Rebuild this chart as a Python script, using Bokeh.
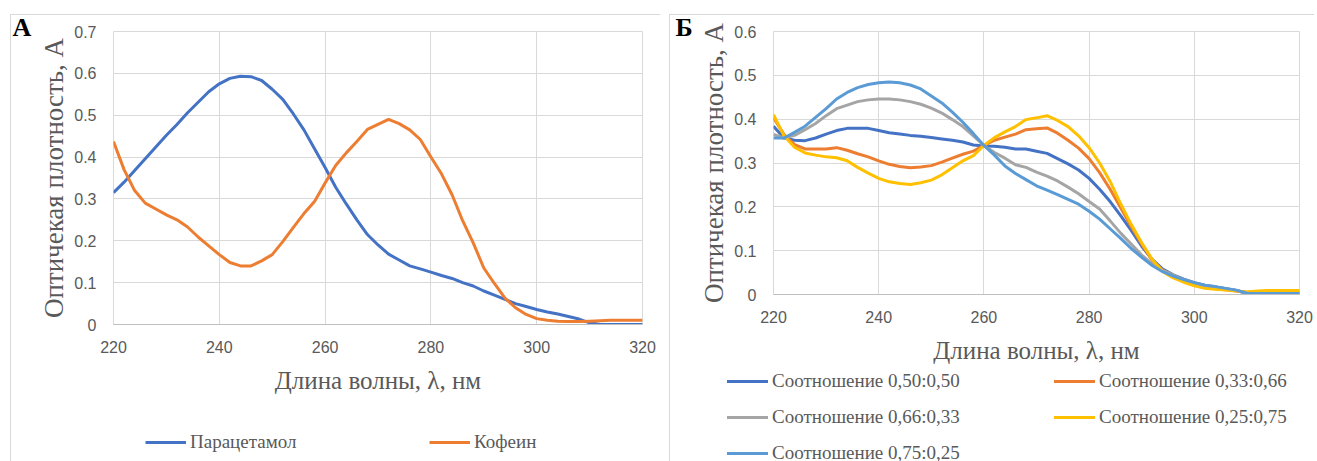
from bokeh.plotting import figure
from bokeh.layouts import row, column
from bokeh.models import Range1d, FixedTicker, Legend, LegendItem, Label, Div
from bokeh.embed import file_html
from bokeh.resources import INLINE

# ---------------- data ----------------
wavelength = [220, 222, 224, 226, 228, 230, 232, 234, 236, 238,
              240, 242, 244, 246, 248, 250, 252, 254, 256, 258,
              260, 262, 264, 266, 268, 270, 272, 274, 276, 278,
              280, 282, 284, 286, 288, 290, 292, 294, 296, 298,
              300, 302, 304, 306, 308, 310, 312, 314, 316, 318, 320]

paracetamol = [0.315, 0.340, 0.368, 0.396, 0.424, 0.452, 0.478, 0.506, 0.531, 0.556,
               0.575, 0.588, 0.593, 0.592, 0.583, 0.562, 0.538, 0.503, 0.465, 0.420,
               0.375, 0.328, 0.288, 0.250, 0.215, 0.190, 0.168, 0.154, 0.140, 0.133,
               0.125, 0.117, 0.110, 0.100, 0.092, 0.080, 0.070, 0.060, 0.050, 0.043,
               0.036, 0.030, 0.025, 0.019, 0.013, 0.004, 0.000, 0.000, 0.000, 0.000, 0.000]

caffeine = [0.437, 0.370, 0.320, 0.290, 0.276, 0.262, 0.250, 0.233, 0.209, 0.188,
            0.167, 0.148, 0.140, 0.140, 0.152, 0.167, 0.198, 0.232, 0.265, 0.294,
            0.338, 0.380, 0.410, 0.437, 0.466, 0.478, 0.490, 0.480, 0.465, 0.442,
            0.400, 0.360, 0.310, 0.248, 0.195, 0.135, 0.098, 0.063, 0.040, 0.024,
            0.014, 0.010, 0.008, 0.007, 0.007, 0.008, 0.009, 0.010, 0.010, 0.010, 0.010]

ratio_050_050 = [0.384, 0.357, 0.352, 0.351, 0.357, 0.366, 0.374, 0.379, 0.379, 0.379,
                 0.374, 0.369, 0.366, 0.363, 0.361, 0.358, 0.355, 0.352, 0.348, 0.341,
                 0.339, 0.338, 0.336, 0.332, 0.332, 0.327, 0.322, 0.310, 0.298, 0.284,
                 0.265, 0.240, 0.212, 0.180, 0.146, 0.110, 0.080, 0.058, 0.045, 0.035,
                 0.027, 0.021, 0.017, 0.013, 0.009, 0.003, 0.002, 0.002, 0.002, 0.002, 0.002]

ratio_033_066 = [0.403, 0.365, 0.342, 0.332, 0.332, 0.332, 0.335, 0.329, 0.321, 0.314,
                 0.305, 0.297, 0.292, 0.289, 0.291, 0.294, 0.302, 0.311, 0.320, 0.327,
                 0.340, 0.352, 0.359, 0.366, 0.376, 0.378, 0.380, 0.368, 0.352, 0.334,
                 0.310, 0.278, 0.240, 0.198, 0.155, 0.115, 0.078, 0.055, 0.042, 0.032,
                 0.022, 0.016, 0.013, 0.011, 0.008, 0.005, 0.006, 0.007, 0.007, 0.007, 0.007]

ratio_066_033 = [0.365, 0.357, 0.363, 0.376, 0.390, 0.408, 0.424, 0.432, 0.440, 0.444,
                 0.446, 0.446, 0.444, 0.440, 0.434, 0.425, 0.414, 0.399, 0.383, 0.362,
                 0.340, 0.324, 0.311, 0.296, 0.290, 0.279, 0.270, 0.259, 0.245, 0.230,
                 0.212, 0.195, 0.168, 0.140, 0.115, 0.090, 0.070, 0.055, 0.044, 0.034,
                 0.026, 0.020, 0.017, 0.013, 0.009, 0.003, 0.002, 0.002, 0.002, 0.002, 0.002]

ratio_025_075 = [0.410, 0.362, 0.336, 0.323, 0.318, 0.314, 0.312, 0.305, 0.290, 0.277,
                 0.265, 0.257, 0.253, 0.251, 0.255, 0.261, 0.273, 0.289, 0.305, 0.317,
                 0.340, 0.358, 0.371, 0.383, 0.399, 0.403, 0.408, 0.397, 0.383, 0.362,
                 0.335, 0.300, 0.258, 0.207, 0.160, 0.118, 0.080, 0.052, 0.038, 0.028,
                 0.020, 0.014, 0.012, 0.010, 0.008, 0.006, 0.008, 0.009, 0.009, 0.009, 0.009]

ratio_075_025 = [0.357, 0.357, 0.370, 0.384, 0.404, 0.424, 0.446, 0.461, 0.472, 0.479,
                 0.483, 0.485, 0.483, 0.478, 0.469, 0.453, 0.437, 0.416, 0.393, 0.367,
                 0.340, 0.318, 0.293, 0.276, 0.262, 0.248, 0.238, 0.228, 0.217, 0.206,
                 0.190, 0.172, 0.150, 0.128, 0.105, 0.085, 0.066, 0.052, 0.042, 0.034,
                 0.027, 0.021, 0.018, 0.014, 0.010, 0.003, 0.002, 0.002, 0.002, 0.002, 0.002]

series_a_names = ["Парацетамол", "Кофеин"]
series_b_names = ["Соотношение 0,50:0,50", "Соотношение 0,33:0,66",
                  "Соотношение 0,66:0,33", "Соотношение 0,25:0,75",
                  "Соотношение 0,75:0,25"]
panel_letters = ["А", "Б"]

x_ticks = [220, 240, 260, 280, 300, 320]
y_ticks_a = [0, 0.1, 0.2, 0.3, 0.4, 0.5, 0.6, 0.7]
y_tick_labels_a = ["0", "0.1", "0.2", "0.3", "0.4", "0.5", "0.6", "0.7"]
y_ticks_b = [0, 0.1, 0.2, 0.3, 0.4, 0.5, 0.6]
y_tick_labels_b = ["0", "0.1", "0.2", "0.3", "0.4", "0.5", "0.6"]

x_title = "Длина волны, λ, нм"
y_title = "Оптичекая плотность, А"

# ---------------- styling ----------------
BLUE = "#4472C4"
ORANGE = "#ED7D31"
GRAY = "#A5A5A5"
YELLOW = "#FFC000"
LBLUE = "#5B9BD5"
TXT = "#595959"
GRID = "#d9d9d9"
SERIF = "Liberation Serif"
SANS = "Liberation Sans"
LINE = "linear-gradient(#d9d9d9, #d9d9d9)"
LW = 3


def top_line_style():
    return {"background-image": LINE, "background-repeat": "no-repeat",
            "background-size": "100% 1px", "background-position": "0px 14px"}


def corner_style(dx):
    return {"background-image": f"{LINE}, {LINE}", "background-repeat": "no-repeat",
            "background-size": "100% 1px, 1px 100%",
            "background-position": f"{dx}px 14px, {dx}px 14px"}


def blank_fig(w, h):
    p = figure(width=w, height=h, x_range=Range1d(0, 1), y_range=Range1d(0, 1),
               output_backend="svg", toolbar_location=None, title=None,
               x_axis_location=None, y_axis_location=None, min_border=0,
               outline_line_color=None, background_fill_color=None,
               border_fill_color=None)
    p.xgrid.visible = False
    p.ygrid.visible = False
    return p


def make_chart(frame_w, frame_h, ymax, yticks, ylabels, borders):
    left, right, top, bottom = borders
    p = figure(frame_width=frame_w, frame_height=frame_h,
               x_range=Range1d(220, 320), y_range=Range1d(0, ymax),
               output_backend="svg", toolbar_location=None, title=None,
               min_border_left=left, min_border_right=right,
               min_border_top=top, min_border_bottom=bottom,
               background_fill_color="white", border_fill_color=None)
    p.styles = top_line_style()
    p.outline_line_color = GRID
    p.xaxis.ticker = FixedTicker(ticks=x_ticks)
    p.yaxis.ticker = FixedTicker(ticks=yticks)
    p.yaxis.major_label_overrides = {t: s for t, s in zip(yticks, ylabels)}
    for ax in (p.xaxis[0], p.yaxis[0]):
        ax.major_tick_line_color = None
        ax.minor_tick_line_color = None
        ax.major_label_text_font = SANS
        ax.major_label_text_font_size = "16px"
        ax.major_label_text_color = TXT
        ax.axis_label_text_font = SERIF
        ax.axis_label_text_font_style = "normal"
        ax.axis_label_text_color = TXT
    p.xaxis.axis_line_color = "#bfbfbf"
    p.yaxis.axis_line_color = None
    p.xaxis.axis_label = x_title
    p.yaxis.axis_label = y_title
    p.xaxis.axis_label_text_font_size = "25px"
    p.yaxis.axis_label_text_font_size = "27px"
    p.xaxis.major_label_standoff = 10
    p.xaxis.axis_label_standoff = 11
    p.yaxis.major_label_standoff = 11
    p.yaxis.axis_label_standoff = 2
    p.xgrid.grid_line_color = GRID
    p.ygrid.grid_line_color = GRID
    p.xgrid.ticker = FixedTicker(ticks=x_ticks)
    p.ygrid.ticker = FixedTicker(ticks=yticks)
    return p


def letter_fig(w, h, letter, x, y, dx):
    p = blank_fig(w, h)
    p.styles = corner_style(dx)
    p.add_layout(Label(x=x, y=y, x_units="screen", y_units="screen", text=letter,
                       text_font=SERIF, text_font_size="26px", text_font_style="bold",
                       text_color="black", text_baseline="alphabetic"))
    return p


# ---------------- panel A ----------------
letter_a = letter_fig(35, 461, panel_letters[0], 12, 434, 10)
chart_a = make_chart(529, 293, 0.7, y_ticks_a, y_tick_labels_a, (78, 18, 31, 81))
chart_a.line(wavelength, paracetamol, line_color=BLUE, line_width=LW)
chart_a.line(wavelength, caffeine, line_color=ORANGE, line_width=LW)

# legend strip (its frame gets aligned with the chart frame above it);
# the series are drawn again here only to supply legend glyphs (outside the strip's view)
leg_a = blank_fig(625, 56)
la = [leg_a.line(wavelength, ys, line_color=c, line_width=LW)
      for ys, c in zip([paracetamol, caffeine], [BLUE, ORANGE])]
for name, r, x0 in zip(series_a_names, la, [32, 316]):
    leg_a.add_layout(Legend(items=[LegendItem(label=name, renderers=[r])],
                            location=(x0, 8), orientation="horizontal",
                            padding=0, margin=0, spacing=0,
                            border_line_color=None, background_fill_alpha=0,
                            glyph_width=41, glyph_height=20, label_height=20,
                            label_standoff=4, label_text_font=SERIF,
                            label_text_font_size="19px", label_text_color=TXT))

# ---------------- panel B ----------------
letter_b = letter_fig(35, 461, panel_letters[1], 15, 434, 9)
chart_b = make_chart(526, 263, 0.6, y_ticks_b, y_tick_labels_b, (78, 15, 31, 71))
series_b = [ratio_050_050, ratio_033_066, ratio_066_033, ratio_025_075, ratio_075_025]
colors_b = [BLUE, ORANGE, GRAY, YELLOW, LBLUE]
for ys, c in zip(series_b, colors_b):
    chart_b.line(wavelength, ys, line_color=c, line_width=LW)

legend_pos_b = [(27, 10), (354, 10), (27, 46), (354, 46), (27, 82)]
parts = []
for name, c, (lx, cy) in zip(series_b_names, colors_b, legend_pos_b):
    parts.append(
        f'<div style="position:absolute;left:{lx}px;top:{cy - 1}px;width:41px;'
        f'height:3px;background:{c};"></div>'
        f'<div style="position:absolute;left:{lx + 45}px;top:{cy - 10}px;height:20px;'
        f'line-height:20px;white-space:nowrap;font-family:\'{SERIF}\';font-size:19px;'
        f'color:{TXT};">{name}</div>')
leg_b = Div(text='<div style="position:relative;width:619px;height:92px;">' + "".join(parts) + "</div>",
            width=619, height=92)

layout = row(row(letter_a, column(chart_a, leg_a)), row(letter_b, column(chart_b, leg_b)))
open("out.html", "w").write(file_html(layout, INLINE))
